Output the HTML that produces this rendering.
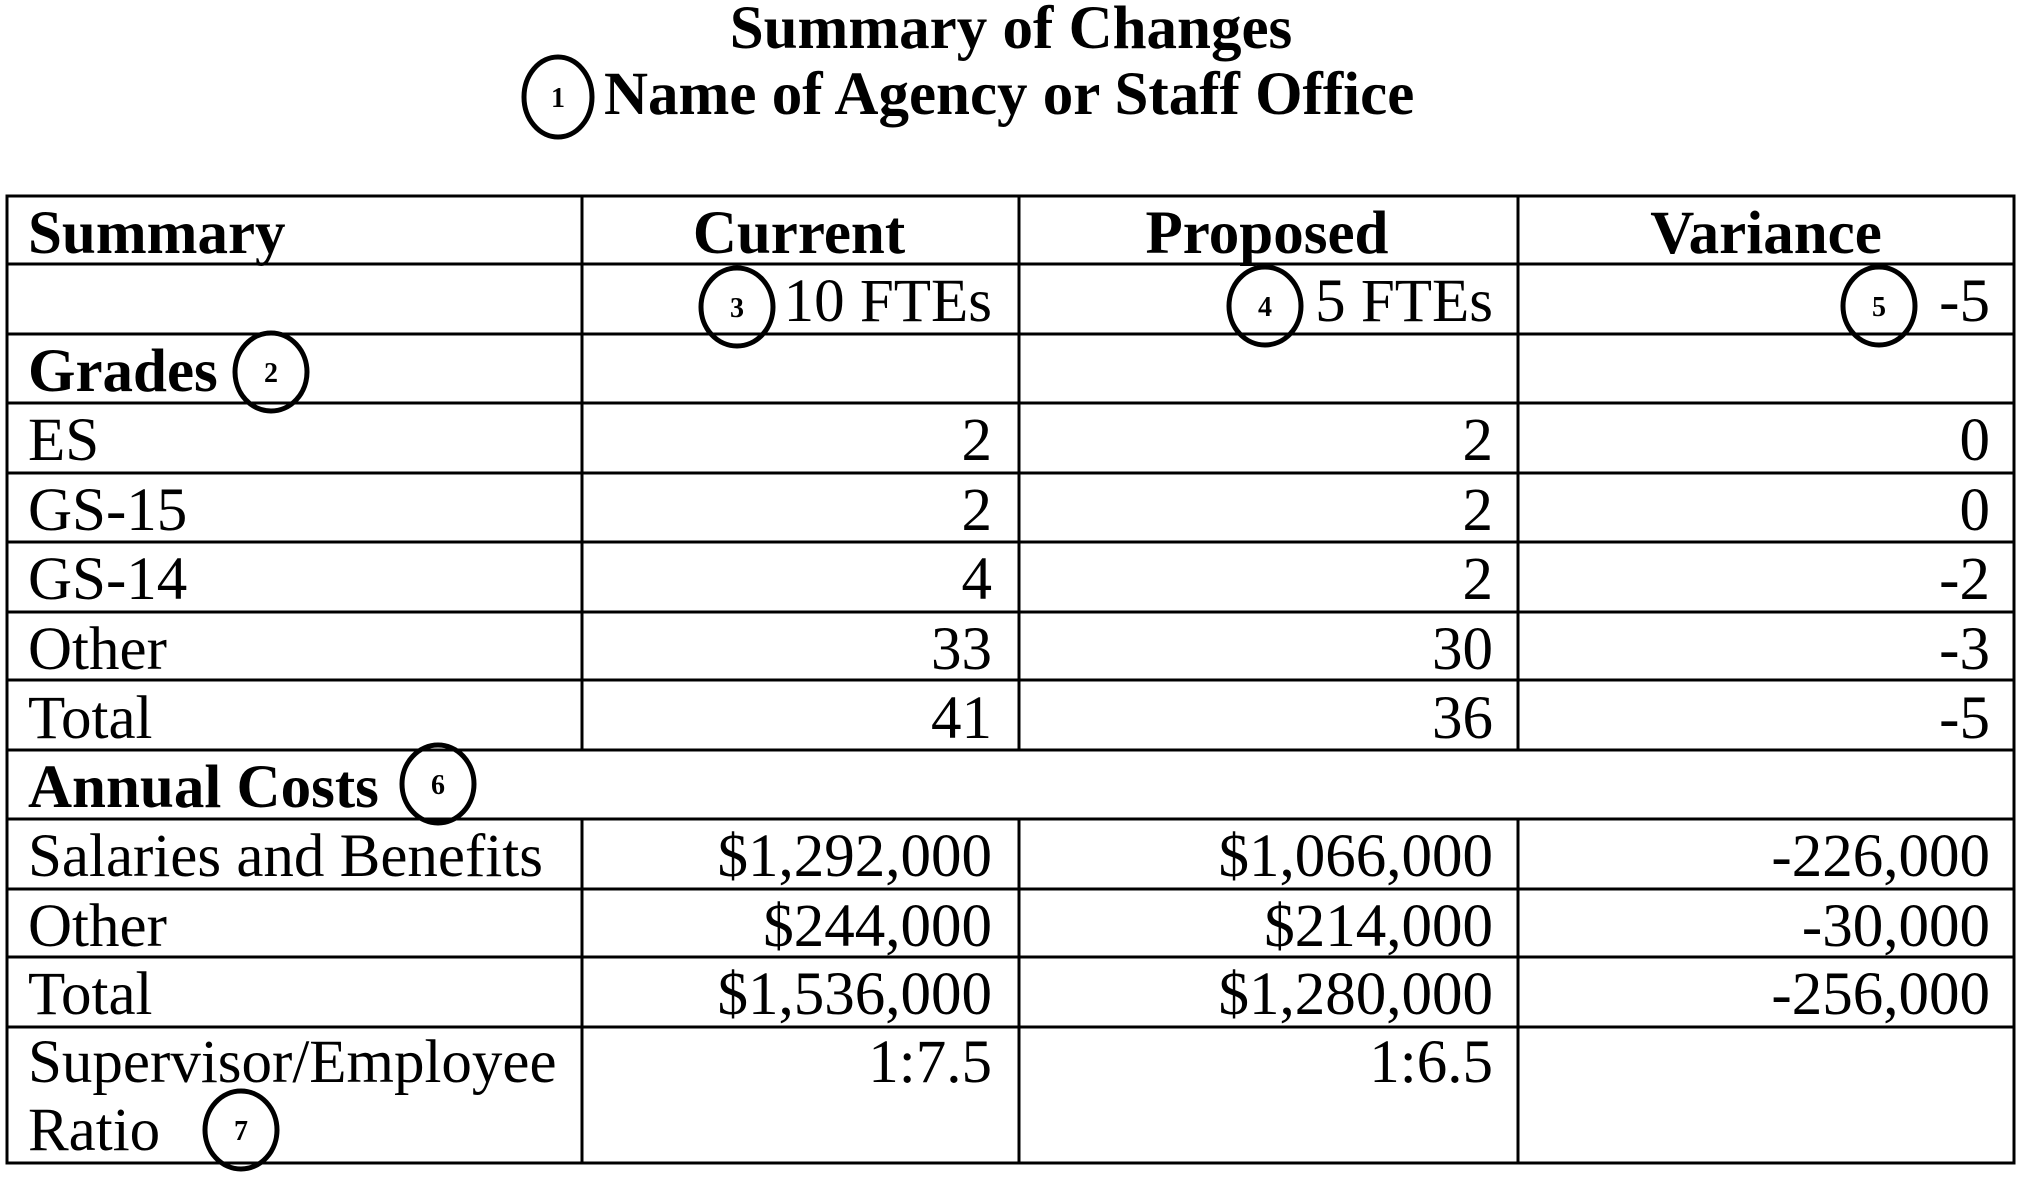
<!DOCTYPE html>
<html><head><meta charset="utf-8"><style>
html,body{margin:0;padding:0;background:#fff;}
svg{display:block;}
text{font-family:"Liberation Serif",serif;font-size:61px;fill:#000;}
.b{font-weight:bold;}
.r{text-anchor:end;}
.c{text-anchor:middle;}
.n{font-size:28px;font-weight:bold;text-anchor:middle;}
</style></head><body>
<svg width="2025" height="1179" viewBox="0 0 2025 1179" xmlns="http://www.w3.org/2000/svg">
<text class="b c" x="1011" y="48">Summary of Changes</text>
<text class="b" x="604" y="114">Name of Agency or Staff Office</text>
<g stroke="#000" stroke-width="3" fill="none">
<rect x="7" y="196" width="2007" height="967"/>
<line x1="7" y1="264" x2="2014" y2="264"/>
<line x1="7" y1="334" x2="2014" y2="334"/>
<line x1="7" y1="403" x2="2014" y2="403"/>
<line x1="7" y1="473" x2="2014" y2="473"/>
<line x1="7" y1="542" x2="2014" y2="542"/>
<line x1="7" y1="612" x2="2014" y2="612"/>
<line x1="7" y1="680" x2="2014" y2="680"/>
<line x1="7" y1="750" x2="2014" y2="750"/>
<line x1="7" y1="819" x2="2014" y2="819"/>
<line x1="7" y1="889" x2="2014" y2="889"/>
<line x1="7" y1="957" x2="2014" y2="957"/>
<line x1="7" y1="1027" x2="2014" y2="1027"/>
<line x1="582" y1="196" x2="582" y2="750"/><line x1="582" y1="819" x2="582" y2="1163"/>
<line x1="1019" y1="196" x2="1019" y2="750"/><line x1="1019" y1="819" x2="1019" y2="1163"/>
<line x1="1518" y1="196" x2="1518" y2="750"/><line x1="1518" y1="819" x2="1518" y2="1163"/>
</g>
<text class="b" x="28" y="253">Summary</text>
<text class="b c" x="799" y="253">Current</text>
<text class="b c" x="1267" y="253">Proposed</text>
<text class="b c" x="1766" y="253">Variance</text>
<text class="r" x="992" y="321">10 FTEs</text>
<text class="r" x="1493" y="321">5 FTEs</text>
<text class="r" x="1990" y="321">-5</text>
<text class="b" x="28" y="391">Grades</text>
<text x="28" y="460">ES</text><text class="r" x="992" y="460">2</text><text class="r" x="1493" y="460">2</text><text class="r" x="1990" y="460">0</text>
<text x="28" y="530">GS-15</text><text class="r" x="992" y="530">2</text><text class="r" x="1493" y="530">2</text><text class="r" x="1990" y="530">0</text>
<text x="28" y="599">GS-14</text><text class="r" x="992" y="599">4</text><text class="r" x="1493" y="599">2</text><text class="r" x="1990" y="599">-2</text>
<text x="28" y="669">Other</text><text class="r" x="992" y="669">33</text><text class="r" x="1493" y="669">30</text><text class="r" x="1990" y="669">-3</text>
<text x="28" y="738">Total</text><text class="r" x="992" y="738">41</text><text class="r" x="1493" y="738">36</text><text class="r" x="1990" y="738">-5</text>
<text class="b" x="28" y="807">Annual Costs</text>
<text x="28" y="876">Salaries and Benefits</text><text class="r" x="992" y="876">$1,292,000</text><text class="r" x="1493" y="876">$1,066,000</text><text class="r" x="1990" y="876">-226,000</text>
<text x="28" y="946">Other</text><text class="r" x="992" y="946">$244,000</text><text class="r" x="1493" y="946">$214,000</text><text class="r" x="1990" y="946">-30,000</text>
<text x="28" y="1014">Total</text><text class="r" x="992" y="1014">$1,536,000</text><text class="r" x="1493" y="1014">$1,280,000</text><text class="r" x="1990" y="1014">-256,000</text>
<text x="28" y="1082">Supervisor/Employee</text><text class="r" x="992" y="1082">1:7.5</text><text class="r" x="1493" y="1082">1:6.5</text>
<text x="28" y="1150">Ratio</text>
<g stroke="#000" stroke-width="5" fill="none">
<ellipse cx="558" cy="97" rx="34" ry="40"/>
<ellipse cx="271" cy="372" rx="36" ry="39"/>
<ellipse cx="737" cy="307" rx="36" ry="39"/>
<ellipse cx="1265" cy="306" rx="36" ry="39"/>
<ellipse cx="1879" cy="306" rx="36" ry="39"/>
<ellipse cx="438" cy="784" rx="36" ry="39"/>
<ellipse cx="241" cy="1130" rx="36" ry="39"/>
</g>
<text class="n" x="558" y="107">1</text>
<text class="n" x="271" y="382">2</text>
<text class="n" x="737" y="317">3</text>
<text class="n" x="1265" y="316">4</text>
<text class="n" x="1879" y="316">5</text>
<text class="n" x="438" y="794">6</text>
<text class="n" x="241" y="1140">7</text>
</svg>
</body></html>
